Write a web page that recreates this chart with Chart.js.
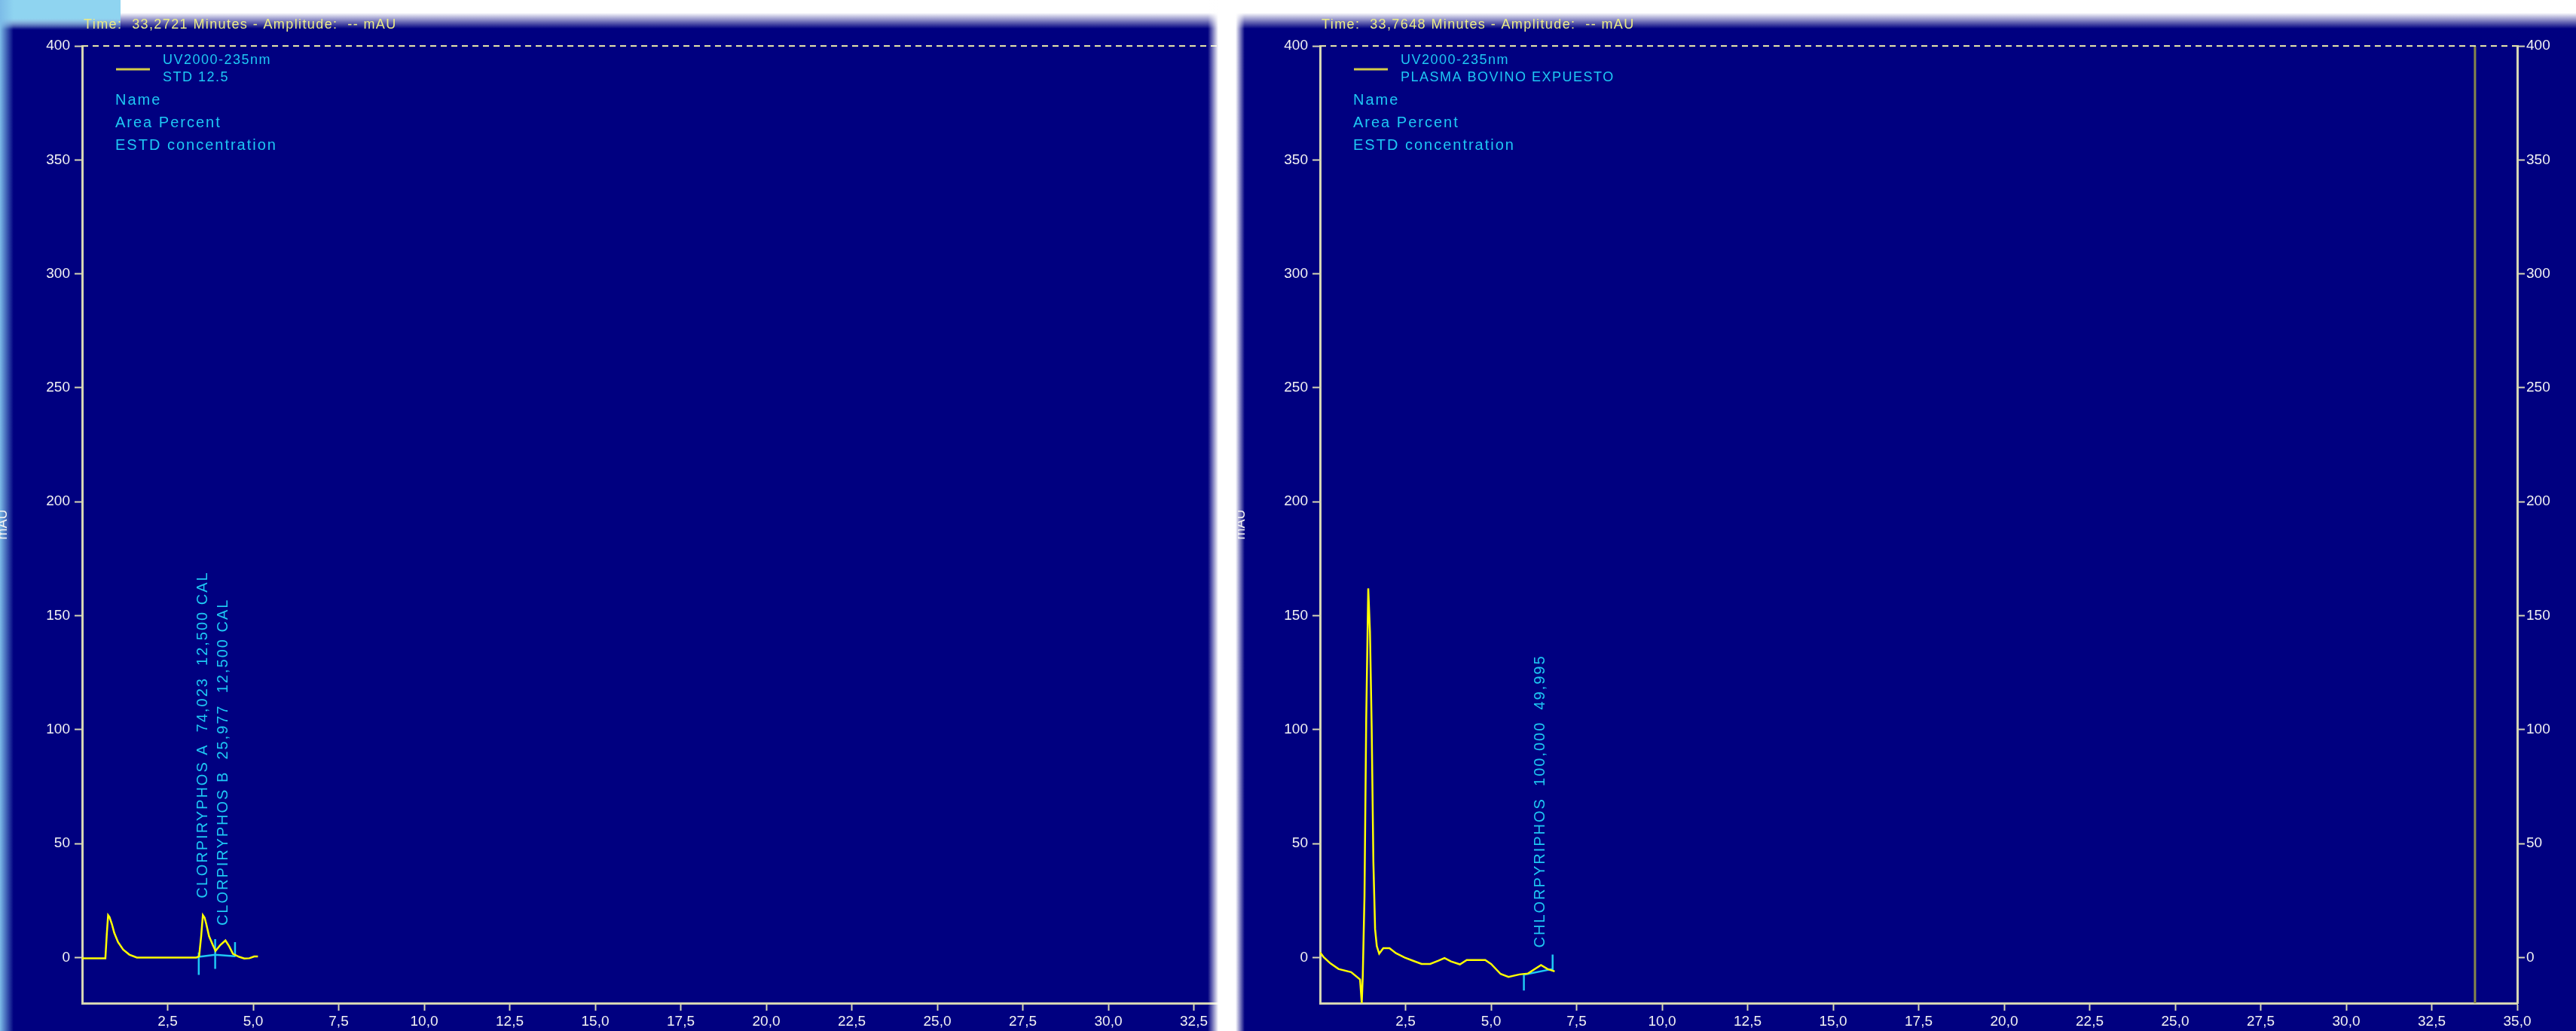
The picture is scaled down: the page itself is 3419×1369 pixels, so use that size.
<!DOCTYPE html>
<html>
<head>
<meta charset="utf-8">
<title>Chromatograms</title>
<script src="https://cdn.jsdelivr.net/npm/chart.js@4.4.1/dist/chart.umd.min.js"></script>
<style>
  html, body { margin: 0; padding: 0; background: #fff; }
  #page { position: relative; width: 3419px; height: 1369px; overflow: hidden; background: #fff; }
  .panel { position: absolute; top: 0; height: 1369px; background: #000080; overflow: hidden; }
  .fade { position: absolute; pointer-events: none; }
  canvas { position: absolute; top: 0; }
</style>
</head>
<body>
<div id="page">
  <div class="panel" style="left:0; width:1617px;">
    <div class="fade" style="left:0; top:0; width:100%; height:44px; background:linear-gradient(#fff 0, #fff 17px, rgba(255,255,255,0) 38px);"></div>
    <div class="fade" style="left:0; top:0; width:160px; height:44px; background:linear-gradient(#8fd4f0 0, #8fd4f0 24px, rgba(143,212,240,0) 40px);"></div>
    <div class="fade" style="left:0; top:0; width:18px; height:100%; background:linear-gradient(to right, #7cbce8, rgba(0,0,128,0));"></div>
    <canvas id="stdChart" width="1777" height="1369" style="left:0;"></canvas>
    <div class="fade" style="right:0; top:0; width:14px; height:100%; background:linear-gradient(to right, rgba(255,255,255,0), #fff);"></div>
  </div>
  <div class="panel" style="left:1640px; width:1779px;">
    <div class="fade" style="left:0; top:0; width:100%; height:44px; background:linear-gradient(#fff 0, #fff 17px, rgba(255,255,255,0) 38px);"></div>
    <div class="fade" style="left:0; top:0; width:12px; height:100%; background:linear-gradient(to right, #fff, rgba(255,255,255,0));"></div>
    <canvas id="plasmaChart" width="1777" height="1369" style="left:3px;"></canvas>
  </div>
</div>

<script>
// axis ticks (minutes / mAU)
const timeTicks = [2.5, 5, 7.5, 10, 12.5, 15, 17.5, 20, 22.5, 25, 27.5, 30, 32.5, 35];
const timeTickLabels = ["2,5", "5,0", "7,5", "10,0", "12,5", "15,0", "17,5", "20,0", "22,5", "25,0", "27,5", "30,0", "32,5", "35,0"];
const ampTicks = [0, 50, 100, 150, 200, 250, 300, 350, 400];
const ampTickLabels = ["0", "50", "100", "150", "200", "250", "300", "350", "400"];

// STD 12.5 run
const stdTime = [0.00, 0.68, 0.72, 0.76, 0.80, 0.87, 0.94, 1.05, 1.20, 1.38, 1.60, 3.34, 3.42, 3.48, 3.53, 3.58, 3.63, 3.71, 3.82, 3.90, 4.04, 4.19, 4.30, 4.41, 4.59, 4.74, 4.89, 5.03, 5.14];
const stdAmp = [-0.3, -0.3, 10, 18.6, 17.8, 14.7, 10.8, 6.8, 3.5, 1.3, 0, 0, 0.5, 9.4, 18.6, 17.5, 14.7, 9.4, 5.5, 2.9, 5.5, 7.5, 4.9, 1.6, 0.3, -0.4, -0.3, 0.5, 0.5];
const stdCutTime = [3.41, 3.89, 4.47];
const stdCutTop = [2.2, 8.1, 6.8];
const stdCutBottom = [-7.6, -5.0, 0.3];
const stdCutBase = [0.3, 1.2, 0.6];
const stdPeakNames = ["CLORPIRYPHOS A  74,023  12,500 CAL", "CLORPIRYPHOS B  25,977  12,500 CAL"];
const stdPeakTime = [3.53, 4.13];
const stdPeakLabelAt = [26, 14];

// PLASMA BOVINO EXPUESTO run
const plasmaTime = [0.00, 0.10, 0.30, 0.54, 0.91, 1.17, 1.22, 1.25, 1.30, 1.35, 1.41, 1.46, 1.51, 1.56, 1.61, 1.66, 1.73, 1.85, 2.03, 2.22, 2.47, 2.72, 2.97, 3.22, 3.46, 3.64, 3.83, 4.09, 4.29, 4.83, 5.00, 5.28, 5.51, 5.83, 6.08, 6.46, 6.65, 6.86];
const plasmaAmp = [2.3, 0.3, -2.5, -5.0, -6.4, -9.6, -20, -8, 27, 104, 162, 143, 101, 42, 12.5, 5, 1.7, 4.1, 4.1, 1.9, 0, -1.4, -2.8, -2.8, -1.4, -0.2, -1.7, -3.0, -1.1, -1.1, -2.8, -7.2, -8.5, -7.4, -7.0, -3.3, -5.0, -6.1];
const plasmaCutTime = [5.96, 6.80];
const plasmaCutTop = [-7.0, 1.3];
const plasmaCutBottom = [-14.5, -5.5];
const plasmaCutBase = [-7.5, -5.0];
const plasmaPeakNames = ["CHLORPYRIPHOS  100,000  49,995"];
const plasmaPeakTime = [6.45];
const plasmaPeakLabelAt = [4.3];

const FONT = '"Liberation Sans", Arial, Helvetica, sans-serif';
const CYAN = "#1ec8f4";
const AXIS = "#d6d6b4";
const WHITE = "#f2f2f2";

Chart.defaults.font.family = FONT;

// header, legend block and rotated peak names
const chromText = {
  id: "chromText",
  afterDatasetsDraw(chart, args, opts) {
    const { ctx, chartArea: a, scales: { x, y } } = chart;
    const spacing = (px) => { if ("letterSpacing" in ctx) ctx.letterSpacing = px; };
    ctx.save();
    ctx.textAlign = "left";
    ctx.textBaseline = "middle";

    ctx.font = "18px " + FONT;
    spacing("1.4px");
    ctx.fillStyle = "#ecec86";
    ctx.fillText(opts.header, a.left + 2, 33);

    ctx.strokeStyle = "#d4cc48";
    ctx.lineWidth = 3;
    ctx.beginPath();
    ctx.moveTo(a.left + 45, 92);
    ctx.lineTo(a.left + 90, 92);
    ctx.stroke();

    ctx.fillStyle = CYAN;
    spacing("1.5px");
    ctx.fillText("UV2000-235nm", a.left + 107, 80);
    ctx.fillText(opts.sample, a.left + 107, 103);

    ctx.font = "20px " + FONT;
    spacing("2px");
    ["Name", "Area Percent", "ESTD concentration"].forEach((t, i) => {
      ctx.fillText(t, a.left + 44, 133 + 30 * i);
    });

    opts.names.forEach((name, i) => {
      ctx.save();
      ctx.translate(x.getPixelForValue(opts.times[i]), y.getPixelForValue(opts.at[i]));
      ctx.rotate(-Math.PI / 2);
      ctx.fillText(name, 0, 0);
      ctx.restore();
    });
    spacing("0px");
    ctx.restore();
  }
};

function ampAxis(position, width, pad) {
  return {
    type: "linear",
    position: position,
    min: -20,
    max: 400,
    afterBuildTicks: (ax) => { ax.ticks = ampTicks.map((v) => ({ value: v })); },
    afterFit: (ax) => { ax.width = width; },
    ticks: {
      color: WHITE,
      font: { size: 19 },
      padding: pad,
      callback: (v, i) => ampTickLabels[i]
    },
    grid: { drawOnChartArea: false, drawTicks: true, tickLength: 10, tickWidth: 2, tickColor: AXIS, color: AXIS },
    border: { display: true, color: AXIS, width: 3 }
  };
}

function buildChart(id, run) {
  const trace = run.time.map((t, i) => ({ x: t, y: run.amp[i] }));

  // integration marks: vertical cuts plus the drawn baseline
  const cuts = [];
  run.cutTime.forEach((t, i) => {
    cuts.push({ x: t, y: run.cutTop[i] }, { x: t, y: run.cutBottom[i] }, { x: t, y: null });
  });
  run.cutTime.forEach((t, i) => cuts.push({ x: t, y: run.cutBase[i] }));

  const leftAxis = ampAxis("left", 109, 6);
  leftAxis.title = {
    display: true, text: "mAU", color: WHITE,
    font: { size: 18 }, padding: { top: -7, bottom: 0 }
  };

  return new Chart(document.getElementById(id), {
    type: "line",
    data: {
      datasets: [
        { data: trace, borderColor: "#ffff00", borderWidth: 2.5 },
        { data: cuts, borderColor: CYAN, borderWidth: 2.5, spanGaps: false },
        { data: [{ x: 0, y: 400 }, { x: 35, y: 400 }], borderColor: "#e4e4a8", borderWidth: 2, borderDash: [8, 6], clip: false },
        { data: [{ x: run.cursor, y: -20 }, { x: run.cursor, y: 400 }], borderColor: "#86864a", borderWidth: 3, clip: false }
      ]
    },
    options: {
      responsive: false,
      animation: false,
      devicePixelRatio: 1,
      events: [],
      layout: { padding: { top: 61, left: 0, right: 0, bottom: 0 } },
      elements: { point: { radius: 0 }, line: { tension: 0, fill: false } },
      scales: {
        x: {
          type: "linear",
          min: 0,
          max: 35,
          afterBuildTicks: (ax) => { ax.ticks = timeTicks.map((v) => ({ value: v })); },
          afterFit: (ax) => { ax.height = 37; },
          ticks: {
            autoSkip: false,
            maxRotation: 0,
            color: WHITE,
            font: { size: 19 },
            padding: 3,
            callback: (v, i) => timeTickLabels[i]
          },
          grid: { drawOnChartArea: false, drawTicks: true, tickLength: 10, tickWidth: 2, tickColor: AXIS, color: AXIS },
          border: { display: true, color: AXIS, width: 3 }
        },
        y: leftAxis,
        y2: ampAxis("right", 79, 2)
      },
      plugins: {
        legend: { display: false },
        tooltip: { enabled: false },
        chromText: {
          header: run.header,
          sample: run.sample,
          names: run.peakNames,
          times: run.peakTime,
          at: run.peakAt
        }
      }
    },
    plugins: [chromText]
  });
}

buildChart("stdChart", {
  header: "Time:  33,2721 Minutes - Amplitude:  -- mAU",
  sample: "STD 12.5",
  cursor: 33.2721,
  time: stdTime, amp: stdAmp,
  cutTime: stdCutTime, cutTop: stdCutTop, cutBottom: stdCutBottom, cutBase: stdCutBase,
  peakNames: stdPeakNames, peakTime: stdPeakTime, peakAt: stdPeakLabelAt
});

buildChart("plasmaChart", {
  header: "Time:  33,7648 Minutes - Amplitude:  -- mAU",
  sample: "PLASMA BOVINO EXPUESTO",
  cursor: 33.7648,
  time: plasmaTime, amp: plasmaAmp,
  cutTime: plasmaCutTime, cutTop: plasmaCutTop, cutBottom: plasmaCutBottom, cutBase: plasmaCutBase,
  peakNames: plasmaPeakNames, peakTime: plasmaPeakTime, peakAt: plasmaPeakLabelAt
});
</script>
</body>
</html>
